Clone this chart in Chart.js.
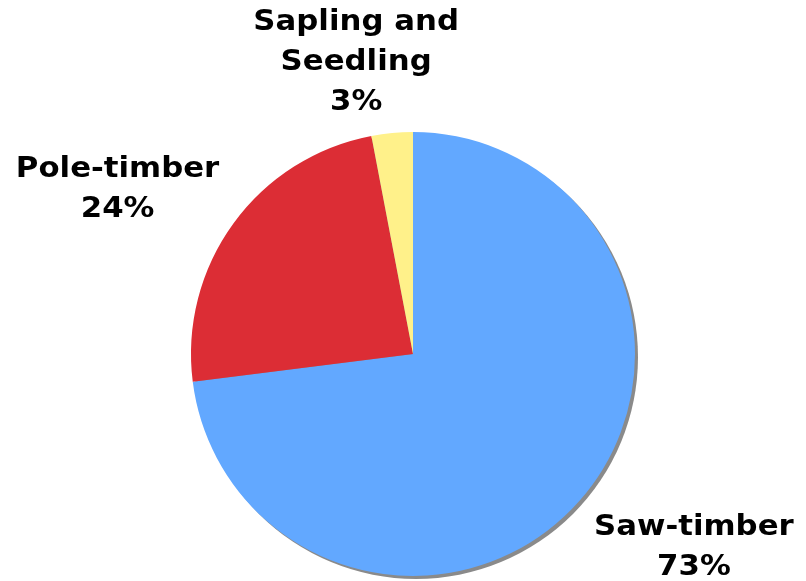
<!DOCTYPE html>
<html>
<head>
<meta charset="utf-8">
<script src="https://cdn.jsdelivr.net/npm/chart.js@4"></script>
<style>
  html, body { margin: 0; padding: 0; background: #fff; }
  #wrap { width: 806px; height: 581px; }
</style>
</head>
<body>
<div id="wrap"><canvas id="pie"></canvas></div>
<script>
const categories = ['Saw-timber', 'Pole-timber', ['Sapling and', 'Seedling']];
const shares = [73, 24, 3];
const colors = ['#62A8FF', '#DC2D35', '#FFF18A'];

// grey drop shadow behind the pie
const shadowPlugin = {
  id: 'shadow',
  beforeDatasetsDraw(chart) {
    const arc = chart.getDatasetMeta(0).data[0];
    if (!arc) return;
    const { ctx } = chart;
    ctx.save();
    ctx.fillStyle = '#8a8a8a';
    ctx.beginPath();
    ctx.arc(arc.x + 3, arc.y + 3, arc.outerRadius, 0, Math.PI * 2);
    ctx.fill();
    ctx.restore();
  }
};

// outside labels: name + percent, placed off the middle of each slice
const labelPlugin = {
  id: 'outLabels',
  afterDatasetsDraw(chart, args, opts) {
    const { ctx } = chart;
    const lineH = 40;
    const stretch = 1.1; // wider glyphs, closer to Verdana
    ctx.save();
    ctx.font = 'bold 28px "DejaVu Sans"';
    ctx.fillStyle = '#000';
    ctx.textAlign = 'center';
    ctx.textBaseline = 'middle';
    chart.getDatasetMeta(0).data.forEach((arc, i) => {
      const name = [].concat(categories[i]);
      const lines = [...name, shares[i] + '%'];
      const w = stretch * Math.max(...lines.map(l => ctx.measureText(l).width));
      const h = lines.length * lineH;
      const mid = (arc.startAngle + arc.endAngle) / 2;
      const px = arc.x + Math.cos(mid) * (arc.outerRadius + 10);
      const py = arc.y + Math.sin(mid) * (arc.outerRadius + 10);
      const sx = Math.max(-1, Math.min(1, Math.cos(mid) * 3));
      const sy = Math.max(-1, Math.min(1, Math.sin(mid) * 3));
      const [nx, ny] = opts.nudge[i] || [0, 0];
      const cx = px + sx * w / 2 + nx;
      const cy = py + sy * h / 2 + ny;
      lines.forEach((l, j) => {
        ctx.save();
        ctx.translate(cx, cy - h / 2 + lineH * (j + 0.5));
        ctx.scale(stretch, 1);
        ctx.fillText(l, 0, 0);
        ctx.restore();
      });
    });
    ctx.restore();
  }
};

new Chart(document.getElementById('pie'), {
  type: 'pie',
  data: {
    labels: categories,
    datasets: [{
      data: shares,
      backgroundColor: colors,
      borderWidth: 0
    }]
  },
  options: {
    responsive: true,
    maintainAspectRatio: false,
    animation: false,
    layout: { padding: { top: 132, bottom: 5, left: 20, right: 0 } },
    plugins: {
      legend: { display: false },
      tooltip: { enabled: false },
      outLabels: { nudge: [[7, 0], [-6, 12], [-6, 0]] }
    }
  },
  plugins: [shadowPlugin, labelPlugin]
});
</script>
</body>
</html>
